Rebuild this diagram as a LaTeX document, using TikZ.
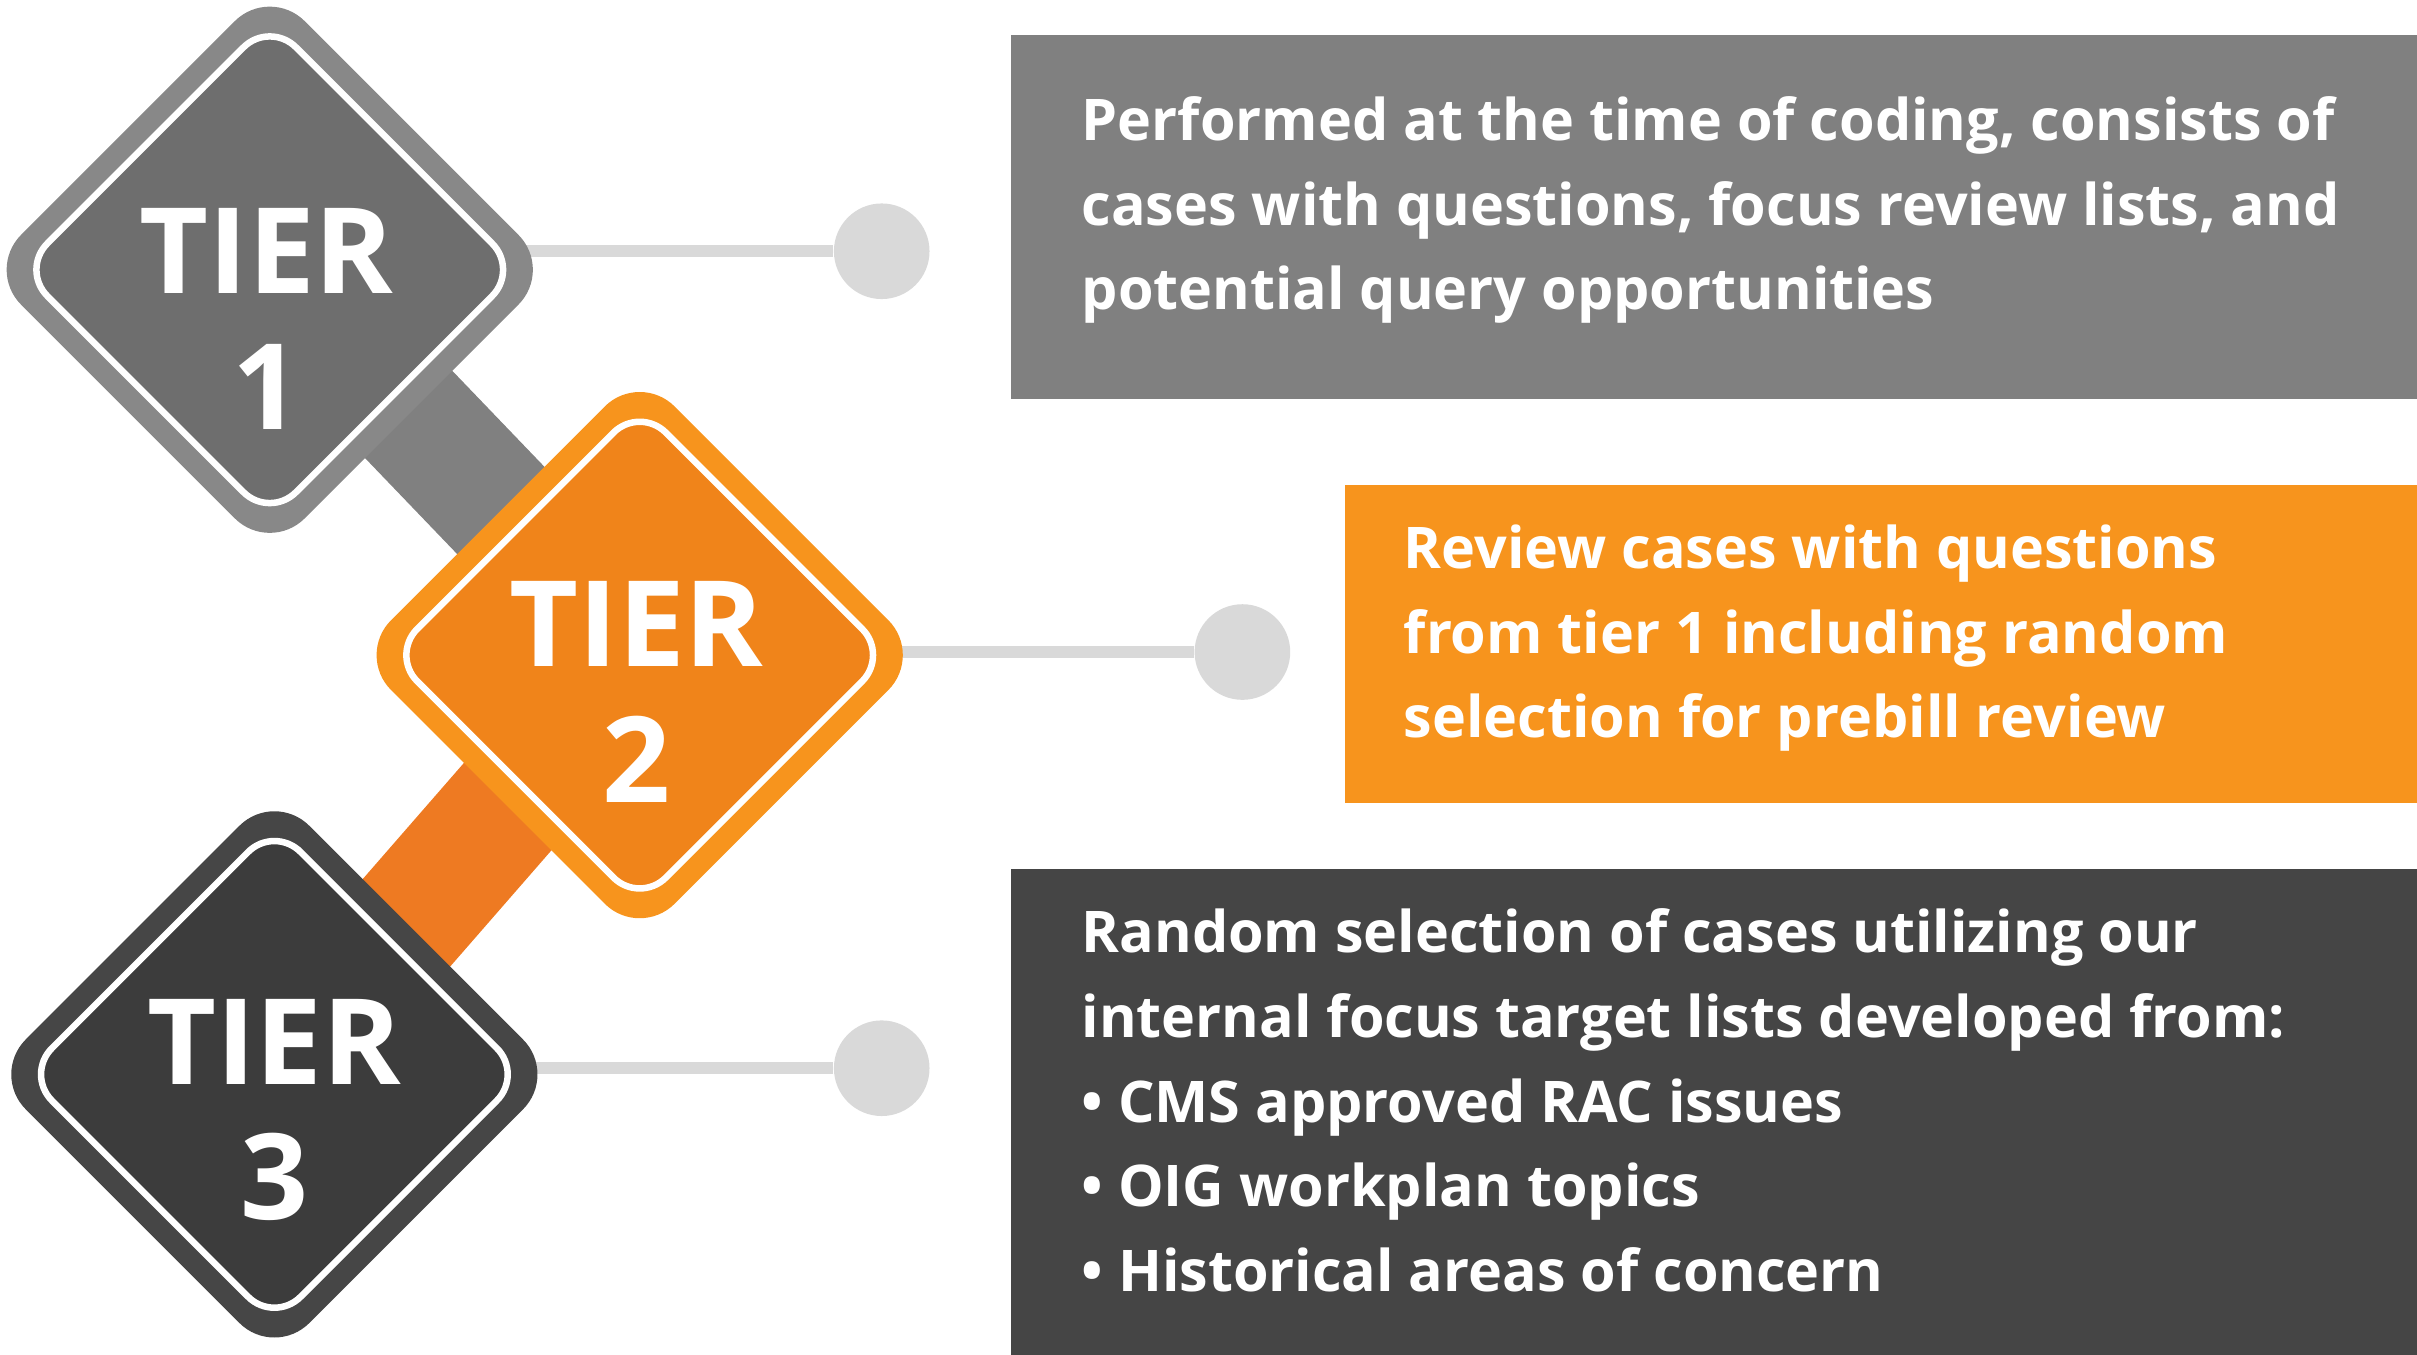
\documentclass[tikz,border=0pt]{standalone}
\usepackage{fontspec}
\setmainfont{Open Sans}[BoldFont={* Bold}]
\usetikzlibrary{positioning}
\definecolor{tieronegray}{HTML}{888888}
\definecolor{tieroneinner}{HTML}{6E6E6E}
\definecolor{tiertwoorange}{HTML}{F7941D}
\definecolor{tiertwoinner}{HTML}{F0841A}
\definecolor{tierthreedark}{HTML}{464646}
\definecolor{tierthreeinner}{HTML}{3C3C3C}
\definecolor{barorange}{HTML}{EE7A22}
\definecolor{boxgray}{HTML}{808080}
\definecolor{boxdark}{HTML}{454545}
\definecolor{pin}{HTML}{D9D9D9}
\tikzset{
  outerdia/.style={rectangle, rotate=45, minimum size=2.6cm, rounded corners=0.32cm, fill=#1},
  innerdia/.style={rectangle, rotate=45, minimum size=2.28cm, rounded corners=0.24cm, draw=white, line width=1.2pt, fill=#1},
  tierlabel/.style={text=white, font=\bfseries\fontsize{22}{25}\selectfont, align=center},
  infobox/.style={fill=#1, anchor=north west, inner sep=0pt},
  infotext/.style={text=white, font=\bfseries\fontsize{10.6}{15.6}\selectfont, align=left, anchor=north west, inner sep=0pt},
  pinline/.style={draw=pin, line width=2.2pt},
  pinhead/.style={circle, fill=pin, minimum size=0.62cm, inner sep=0pt}
}
\begin{document}
\begin{tikzpicture}[x=0.01cm, y=-0.01cm]
    \useasboundingbox (0,0) rectangle (1568,879);
    % info boxes
    \node [infobox=boxgray, minimum width=9.13cm, minimum height=2.36cm] (box1) at (655,22) {};
    \node [infobox=tiertwoorange, minimum width=6.96cm, minimum height=2.06cm] (box2) at (872,314) {};
    \node [infobox=boxdark, minimum width=9.13cm, minimum height=3.16cm] (box3) at (655,563) {};
    \node [infotext] (text1) at (701,62) {Performed at the time of coding, consists of\\cases with questions, focus review lists, and\\potential query opportunities};
    \node [infotext] (text2) at (910,340) {Review cases with questions\\from tier 1 including random\\selection for prebill review};
    \node [infotext] (text3) at (701,589) {Random selection of cases utilizing our\\internal focus target lists developed from:\\\textbullet{} CMS approved RAC issues\\\textbullet{} OIG workplan topics\\\textbullet{} Historical areas of concern};
    % pins
    \node [pinhead] (pin1) at (572,163) {};
    \node [pinhead] (pin2) at (806,423) {};
    \node [pinhead] (pin3) at (572,693) {};
    \coordinate (c1) at (175,163);
    \coordinate (c2) at (415,423);
    \coordinate (c3) at (178,693);
    \path [pinline] (c1) -- (pin1);
    \path [pinline] (c2) -- (pin2);
    \path [pinline] (c3) -- (pin3);
    % bars
    \coordinate (d1) at (175,175);
    \coordinate (d2) at (415,425);
    \coordinate (d3) at (178,697);
    \draw [boxgray, line width=0.8cm] (d1) -- (d2);
    \draw [barorange, line width=0.8cm] (d2) -- (d3);
    % diamonds
    \node [outerdia=tieronegray] (outer1) at (d1) {};
    \node [innerdia=tieroneinner] (inner1) at (d1) {};
    \node [outerdia=tierthreedark] (outer3) at (d3) {};
    \node [innerdia=tierthreeinner] (inner3) at (d3) {};
    \node [outerdia=tiertwoorange] (outer2) at (d2) {};
    \node [innerdia=tiertwoinner] (inner2) at (d2) {};
    \node [tierlabel] (label1) at (173,207) {TIER\\1};
    \node [tierlabel] (label2) at (413,449) {TIER\\2};
    \node [tierlabel] (label3) at (178,720) {TIER\\3};
\end{tikzpicture}
\end{document}
